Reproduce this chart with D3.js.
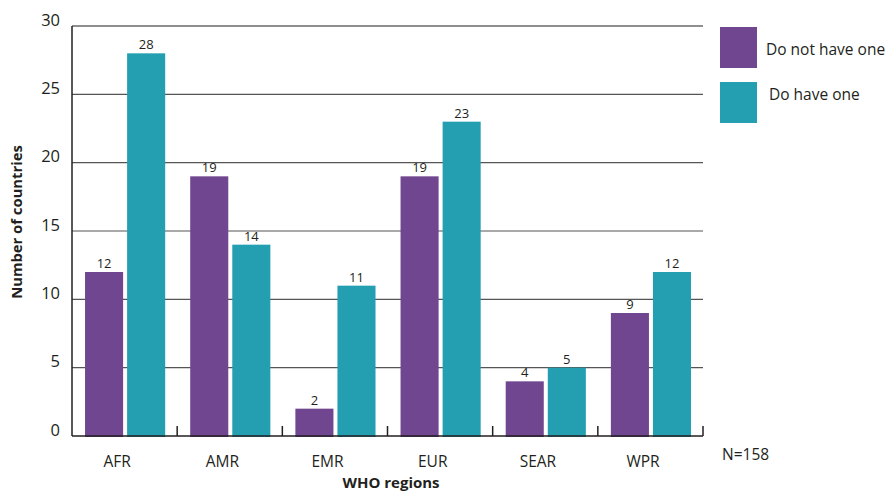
<!DOCTYPE html>
<html>
<head>
<meta charset="utf-8">
<script src="https://cdn.jsdelivr.net/npm/d3@7"></script>
<style>
  body { margin: 0; background: #fff; }
  text { font-family: "Open Sans", sans-serif; fill: #231f20; }
</style>
</head>
<body>
<div id="chart"></div>
<script>
const regions = ["AFR", "AMR", "EMR", "EUR", "SEAR", "WPR"];
const doNotHave = [12, 19, 2, 19, 4, 9];
const doHave = [28, 14, 11, 23, 5, 12];
const seriesNames = ["Do not have one", "Do have one"];
const yTicks = [0, 5, 10, 15, 20, 25, 30];

const width = 890, height = 491;
const margin = {left: 72, right: 187, top: 26, bottom: 55};
const colors = ["#704691", "#249fb2"];

const svg = d3.select("#chart").append("svg")
  .attr("width", width)
  .attr("height", height);

const x = d3.scaleBand()
  .domain(regions)
  .range([margin.left, width - margin.right]);

const y = d3.scaleLinear()
  .domain([0, 30])
  .range([height - margin.bottom, margin.top]);

const barW = x.bandwidth() * 0.362;
const offsets = [x.bandwidth() * 0.124, x.bandwidth() * 0.124 + barW + 4];

// gridlines
svg.append("g")
  .selectAll("line")
  .data(yTicks.filter(d => d > 0))
  .enter()
  .append("line")
  .attr("x1", margin.left)
  .attr("x2", width - margin.right)
  .attr("y1", d => y(d))
  .attr("y2", d => y(d))
  .attr("stroke", d => d === 30 ? "#231f20" : "#555")
  .attr("stroke-width", 1.2);

// y labels
svg.append("g")
  .selectAll("text")
  .data(yTicks)
  .enter()
  .append("text")
  .attr("x", 60)
  .attr("y", d => y(d) - 6)
  .attr("text-anchor", "end")
  .attr("dy", "0.35em")
  .style("font-size", "16.5px")
  .text(d => d);

// bars
const series = [doNotHave, doHave];
series.forEach((vals, si) => {
  const g = svg.append("g");
  g.selectAll("rect")
    .data(regions)
    .enter()
    .append("rect")
    .attr("x", (d, i) => x(d) + offsets[si])
    .attr("width", barW)
    .attr("y", (d, i) => y(vals[i]))
    .attr("height", (d, i) => y(0) - y(vals[i]) + 1)
    .attr("fill", colors[si]);

  g.selectAll("text")
    .data(regions)
    .enter()
    .append("text")
    .attr("x", (d, i) => x(d) + offsets[si] + barW / 2)
    .attr("y", (d, i) => y(vals[i]) - 4)
    .attr("text-anchor", "middle")
    .style("font-size", "13px")
    .text((d, i) => vals[i]);
});

// axes lines
svg.append("line")
  .attr("x1", margin.left).attr("x2", margin.left)
  .attr("y1", y(30)).attr("y2", y(0))
  .attr("stroke", "#231f20").attr("stroke-width", 1.5);

svg.append("line")
  .attr("x1", margin.left).attr("x2", width - margin.right)
  .attr("y1", y(0)).attr("y2", y(0))
  .attr("stroke", "#231f20").attr("stroke-width", 1.5);

// tick marks at band boundaries
svg.append("g")
  .selectAll("line")
  .data(regions)
  .enter()
  .append("line")
  .attr("x1", d => x(d) + x.bandwidth())
  .attr("x2", d => x(d) + x.bandwidth())
  .attr("y1", y(0))
  .attr("y2", y(0) - 10)
  .attr("stroke", "#231f20").attr("stroke-width", 1.5);

// category labels
svg.append("g")
  .selectAll("text")
  .data(regions)
  .enter()
  .append("text")
  .attr("x", d => x(d) + x.bandwidth() * 0.43)
  .attr("y", 467)
  .attr("text-anchor", "middle")
  .style("font-size", "15.5px")
  .text(d => d);

// axis titles
svg.append("text")
  .attr("x", 391)
  .attr("y", 488)
  .attr("text-anchor", "middle")
  .style("font-size", "15px")
  .style("font-weight", "bold")
  .text("WHO regions");

svg.append("text")
  .attr("transform", "translate(22,222) rotate(-90)")
  .attr("text-anchor", "middle")
  .style("font-size", "14.8px")
  .style("font-weight", "bold")
  .text("Number of countries");

svg.append("text")
  .attr("x", 722)
  .attr("y", 460)
  .style("font-size", "15.5px")
  .text("N=158");

// legend
const legend = svg.append("g");
seriesNames.forEach((name, i) => {
  legend.append("rect")
    .attr("x", 720)
    .attr("y", 27 + i * 55)
    .attr("width", 37)
    .attr("height", 41)
    .attr("fill", colors[i]);
  legend.append("text")
    .attr("x", 766 + i * 3)
    .attr("y", 53 + i * 45)
    .attr("dy", "0.1em")
    .style("font-size", "15.5px")
    .text(name);
});
</script>
</body>
</html>
